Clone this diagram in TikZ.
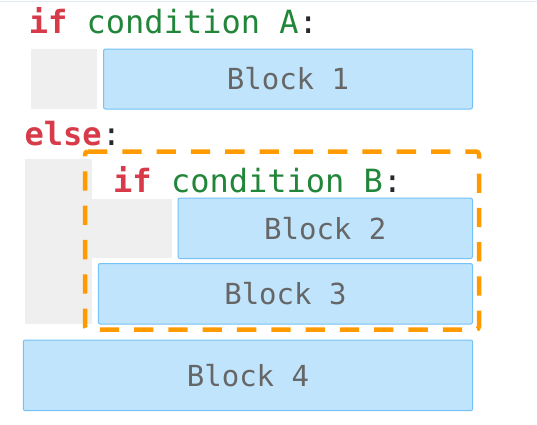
\documentclass[tikz,border=0pt]{standalone}
\usepackage{fontspec}
\setmonofont{DejaVu Sans Mono}
\usetikzlibrary{positioning}
\definecolor{kwred}{HTML}{D73A49}
\definecolor{condgreen}{HTML}{22863A}
\definecolor{colonblack}{HTML}{24292E}
\definecolor{blockfill}{HTML}{BFE4FC}
\definecolor{blockline}{HTML}{74C2F7}
\definecolor{blocktext}{HTML}{666666}
\definecolor{indentgray}{HTML}{EFEFEF}
\definecolor{nestorange}{HTML}{FF9A00}
\definecolor{rulegray}{HTML}{E0E8F2}
\tikzset{
    block/.style = {rectangle, draw=blockline, line width=1pt, fill=blockfill, rounded corners=2pt,
                    text=blocktext, font=\ttfamily\fontsize{29}{33}\selectfont, inner sep=0pt},
    indentbox/.style = {rectangle, fill=indentgray, inner sep=0pt},
    nestbox/.style = {draw=nestorange, line width=4.5pt, rounded corners=3pt,
                      dash pattern=on 19.3pt off 15pt},
    codeline/.style = {anchor=base west, inner sep=0pt, text=colonblack,
                       font=\ttfamily\fontsize{32}{36}\selectfont},
}
\newcommand{\kwif}{{\color{kwred}\bfseries if}}
\newcommand{\kwelse}{{\color{kwred}\bfseries else}}
\newcommand{\cond}[1]{{\color{condgreen}#1}}

\begin{document}
\begin{tikzpicture}[x=1pt,y=-1pt]
\useasboundingbox (0,0) rectangle (537,424);
\draw[rulegray, line width=1.5pt] (0,1.5) -- (537,1.5);
%
\node[codeline] at (28.7,33) (ifa) {\kwif{} \cond{condition A}:};
\node[indentbox, minimum width=65.5, minimum height=60] at (63.75,79) (inda) {};
\node[block, minimum width=369, minimum height=60] at (288,79) (b1) {Block 1};
%
\node[codeline] at (24.5,145) (els) {\kwelse:};
\node[indentbox, minimum width=66.7, minimum height=165] at (58.35,241.5) (indelse) {};
\node[indentbox, minimum width=80, minimum height=59] at (131.7,228.5) (indb) {};
\node[codeline] at (113,192) (ifb) {\kwif{} \cond{condition B}:};
\node[block, minimum width=294.5, minimum height=60.5] at (325.25,228.25) (b2) {Block 2};
\node[block, minimum width=374.2, minimum height=60.5] at (285.4,293.75) (b3) {Block 3};
\coordinate (nestnw) at (85,151.5);
\coordinate (nestse) at (479,329.5);
\draw[nestbox] (nestnw) -- (nestnw -| nestse) -- (nestse) -- (nestse -| nestnw) -- cycle;
%
\node[block, minimum width=449.4, minimum height=70.7] at (248,375.35) (b4) {Block 4};

\end{tikzpicture}
\end{document}
